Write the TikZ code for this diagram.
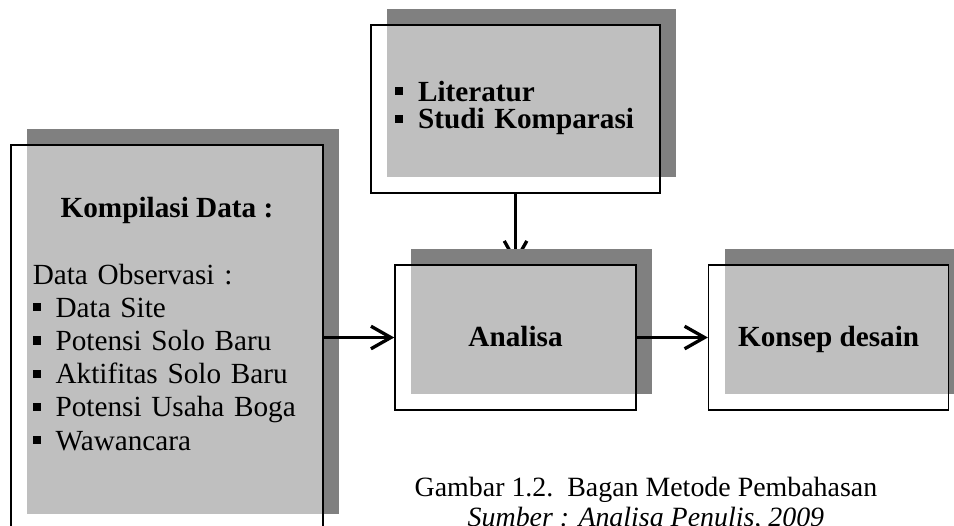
\documentclass[tikz,border=0pt]{standalone}
\usepackage{fontspec}
\setmainfont{Liberation Serif}
\usepackage{xcolor}
\usepackage{tikz}
\usetikzlibrary{arrows.meta,positioning,shadows,backgrounds}
\definecolor{bayangan}{RGB}{128,128,128}
\newcommand{\butir}{\rule[0.2em]{0.28em}{0.28em}\hspace{0.5em}}

\begin{document}
\begin{tikzpicture}[
    kotak/.style={rectangle, draw=black, line width=1.2pt, fill=white, fill opacity=0.5, text opacity=1,
      drop shadow={shadow xshift=12pt, shadow yshift=12pt, fill=bayangan, opacity=1},
      text height=19pt, text depth=5pt, font=\fontsize{22pt}{25pt}\selectfont\bfseries},
    teks/.style={inner sep=0pt, align=left, font=\fontsize{22pt}{25pt}\selectfont},
    panah/.style={-{Straight Barb[length=15pt,width=17pt]}, line width=2.5pt}
]
\useasboundingbox (0,0) rectangle (25.241,13.891);

% Kotak
\node[kotak, minimum width=7.646cm, minimum height=4.445cm] (pustaka) at (13.64,11.007) {};
\node[kotak, minimum width=8.255cm, minimum height=10.186cm] (kompilasi) at (4.418,4.961) {};
\node[kotak, minimum width=6.376cm, minimum height=3.836cm] (analisa) at (13.64,4.961) {Analisa};
\node[kotak, minimum width=6.35cm, minimum height=3.836cm, right=1.88cm of analisa] (konsep) {Konsep desain};

% Isi kotak
\node[teks, anchor=base west, text width=6.4cm, font=\fontsize{22pt}{20.5pt}\selectfont\bfseries] (literatur) at (10.45,11.21)
  {\butir Literatur\\ \butir Studi Komparasi};
\node[teks, anchor=base, font=\fontsize{22pt}{25pt}\selectfont\bfseries] (judulkompilasi) at (4.418,8.149) {Kompilasi Data :};
\node[teks, anchor=base west, text width=7.3cm] (observasi) at (0.86,6.376)
  {Data Observasi :\\ \butir Data Site\\ \butir Potensi Solo Baru\\ \butir Aktifitas Solo Baru\\ \butir Potensi Usaha Boga\\ \butir Wawancara};

% Panah
\begin{pgfonlayer}{background}
\draw[panah] (pustaka) -- (analisa);
\end{pgfonlayer}
\draw[panah] (kompilasi) -- (analisa);
\draw[panah] (analisa) -- (konsep);

% Keterangan
\node[teks, anchor=base, font=\fontsize{21pt}{25pt}\selectfont] (judulgambar) at (17.09,0.767) {Gambar 1.2.\ \ Bagan Metode Pembahasan};
\node[teks, anchor=base, font=\fontsize{21pt}{25pt}\selectfont\itshape] (sumber) at (17.09,-0.04) {Sumber : Analisa Penulis, 2009};

\end{tikzpicture}
\end{document}
